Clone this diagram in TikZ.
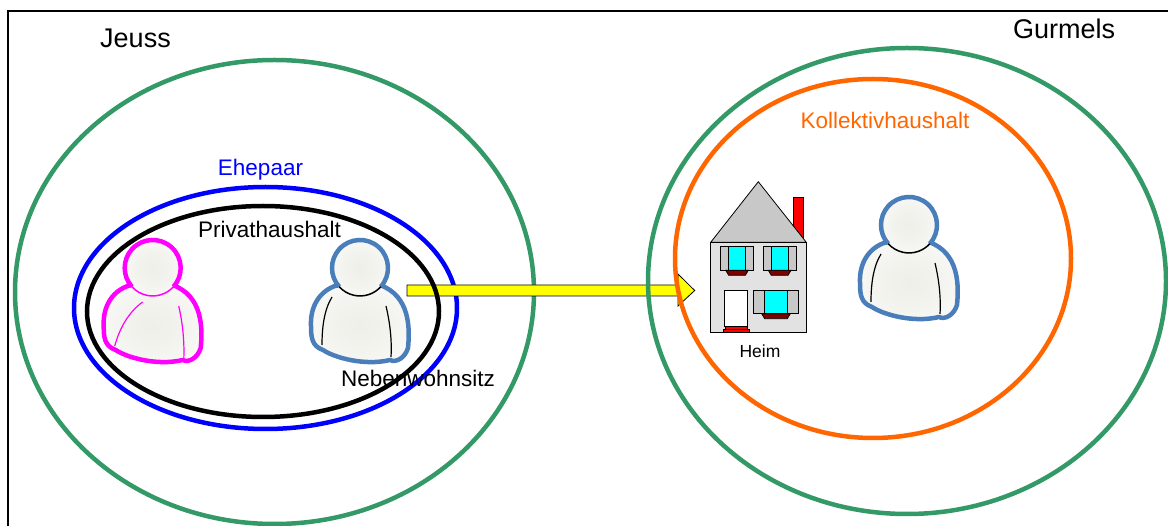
\documentclass[tikz,border=0pt]{standalone}
\usepackage{fontspec}
\setmainfont{Liberation Sans}
\usepackage{tikz}
\definecolor{mgreen}{HTML}{339966}
\definecolor{mblue}{HTML}{0000FF}
\definecolor{morange}{HTML}{FF6600}
\definecolor{mpink}{HTML}{FF00FF}
\definecolor{msteel}{HTML}{4A7EBB}
\definecolor{mskin}{HTML}{EFEFE9}
\definecolor{mwall}{HTML}{E2E2E2}
\definecolor{mroof}{HTML}{C8C8C8}
\definecolor{msill}{HTML}{800000}
\definecolor{mglass}{HTML}{00FFFF}
\definecolor{myellow}{HTML}{FFFF00}
\definecolor{mbrick}{HTML}{FF0000}
\tikzset{ring/.style = {line width=4.5}}
\tikzset{bigtext/.style = {inner sep=0, font=\fontsize{27}{30}\selectfont}}
\tikzset{midtext/.style = {inner sep=0, font=\fontsize{22.5}{26}\selectfont}}
\tikzset{part/.style = {draw=black, line width=0.8}}
\pgfdeclareradialshading{skin}{\pgfpointorigin}{color(0bp)=(mskin); color(18bp)=(mskin!70!white); color(40bp)=(white); color(50bp)=(white)}
% one figure, head centre at the origin
\newcommand{\person}[2]{
  \shade [shading=skin]
    (-22, 17) .. controls (-40, 22) and (-50, 38) .. (-49, 58)
    .. controls (-49, 70) and (-48, 78) .. (-37, 82)
    .. controls (-25, 90) and (5, 98) .. (30, 92)
    .. controls (36, 95) and (45, 90) .. (48, 80)
    .. controls (50, 60) and (50, 28) .. (20, 17) -- cycle;
  \draw [#1, line width=4.5, line join=round]
    (-22, 17) .. controls (-40, 22) and (-50, 38) .. (-49, 58)
    .. controls (-49, 70) and (-48, 78) .. (-37, 82)
    .. controls (-25, 90) and (5, 98) .. (30, 92)
    .. controls (36, 95) and (45, 90) .. (48, 80)
    .. controls (50, 60) and (50, 28) .. (20, 17);
  \shade [shading=skin] (0, 0) circle [radius=28];
  \draw [#1, line width=4.5] (20.8, 18.7) arc [start angle=42, end angle=-222, radius=28];
  \draw [#2, line width=1.5] (20.8, 18.7) arc [start angle=42, end angle=138, radius=28];
}
\begin{document}
\begin{tikzpicture}[x=1pt, y=-1pt]
  \useasboundingbox (0, 0) rectangle (1168, 526);

  \draw [line width=2] (8, 526) -- (8, 11) -- (1168, 11);

  \draw [mblue, ring] (265.5, 308) ellipse [x radius=191.5, y radius=121];
  \draw [mgreen, ring] (274.5, 292) ellipse [x radius=259.5, y radius=232];

  \draw [part, fill=myellow] (407, 285) -- (678, 285) -- (678, 274) -- (694.7, 290.5)
    -- (678, 306) -- (678, 296) -- (407, 296) -- cycle;

  \draw [black, ring] (263, 311.5) ellipse [x radius=176, y radius=105.5];
  \draw [mgreen, ring] (907, 281) ellipse [x radius=259, y radius=233];
  \draw [morange, ring] (873, 258.5) ellipse [x radius=198, y radius=179.5];

  \begin{scope}[shift={(152.7, 268)}]
    \person{mpink}{mpink}
    \draw [mpink, line width=1.2] (-10, 34) .. controls (-24, 44) and (-33, 60) .. (-38, 78);
    \draw [mpink, line width=1.2] (26, 38) .. controls (30, 55) and (32, 75) .. (31, 93);
  \end{scope}
  \foreach \x/\y in {360/268, 909/225}{
    \begin{scope}[shift={(\x, \y)}]
      \person{msteel}{black}
      \draw [line width=1.2] (-28, 29) .. controls (-36, 42) and (-38, 60) .. (-38, 77);
      \draw [line width=1.2] (26, 38) .. controls (30, 55) and (32, 72) .. (31, 89);
    \end{scope}
  }

  % the home
  \draw [part, fill=mbrick] (793.3, 197.3) rectangle (803.3, 240);
  \draw [part, fill=mroof] (710.7, 242.3) -- (758.3, 181.7) -- (806.3, 242.3) -- cycle;
  \draw [part, fill=mwall] (710.7, 242.3) rectangle (806.3, 332.7);
  \foreach \xa/\xb/\xc/\xd/\ya/\yb in {720.3/728.7/745.3/753.7/246.3/270.3,
                                       763/771.3/788/796.7/246.3/270.3,
                                       753.3/764.7/787.3/798.7/290.3/313.7}{
    \draw [part, fill=mroof] (\xa, \ya) rectangle (\xd, \yb);
    \draw [part, fill=mglass] (\xb, \ya) rectangle (\xc, \yb);
    \draw [part, fill=msill] (\xb-3, \yb) -- (\xc+3, \yb) -- (\xc, \yb+5) -- (\xb, \yb+5) -- cycle;
  }
  \draw [part, fill=white] (724.7, 290.3) rectangle (747.7, 326.7);
  \draw [part, fill=mbrick] (725, 326.7) rectangle (747.3, 329.3);
  \draw [part, fill=mbrick] (723.3, 329.3) rectangle (749, 332.7);

  \node [bigtext] (jeuss) at (135.5, 38) {Jeuss};
  \node [bigtext] (gurmels) at (1064, 29) {Gurmels};
  \node [midtext, mblue] (ehepaar) at (260.5, 169.5) {Ehepaar};
  \node [midtext] (privat) at (269.5, 229) {Privathaushalt};
  \node [midtext] (neben) at (418, 378) {Nebenwohnsitz};
  \node [midtext, morange] (kollektiv) at (885, 120) {Kollektivhaushalt};
  \node [inner sep=0, font=\fontsize{17.5}{20}\selectfont] (heim) at (760, 351) {Heim};
\end{tikzpicture}
\end{document}
